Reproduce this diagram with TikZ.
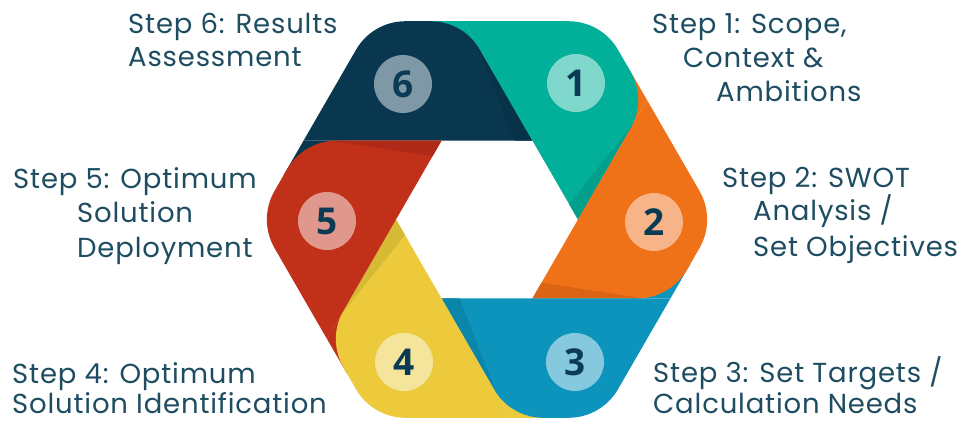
\documentclass[tikz,border=0pt]{standalone}
\usepackage{fontspec}
\setmainfont[LetterSpace=3]{Poppins}
\newfontfamily\numfont{Open Sans}
\definecolor{c6}{HTML}{08374F}
\definecolor{c1}{HTML}{02B09A}
\definecolor{c2}{HTML}{F07218}
\definecolor{c3}{HTML}{0D94BD}
\definecolor{c4}{HTML}{ECCA3B}
\definecolor{c5}{HTML}{C1311A}
\definecolor{c6d}{HTML}{073349}
\definecolor{c1d}{HTML}{01A08C}
\definecolor{c2d}{HTML}{DA6414}
\definecolor{c3d}{HTML}{0B85AA}
\definecolor{c4d}{HTML}{D6B935}
\definecolor{c5d}{HTML}{AE2A16}
\definecolor{t6}{HTML}{7F98A5}
\definecolor{t1}{HTML}{7FD8CB}
\definecolor{t2}{HTML}{F7B488}
\definecolor{t3}{HTML}{86C9DE}
\definecolor{t4}{HTML}{F5E49C}
\definecolor{t5}{HTML}{E0978C}
\definecolor{numc}{HTML}{0B3A54}
\definecolor{txt}{HTML}{1E4D62}
\begin{document}
\begin{tikzpicture}[x=1pt,y=-1pt,
  numcircle/.style={circle,minimum size=58pt,inner sep=0pt,fill=#1,text=numc,
    font=\numfont\bfseries\fontsize{37}{37}\selectfont},
  lbl/.style={anchor=base west,inner sep=0pt,text=txt,font=\fontsize{27.5}{30}\selectfont}]
\useasboundingbox (0,0) rectangle (960,421);
% patches of the next segment behind each rounded leading corner
\foreach \rot/\nxt in {0/c1,-60/c2,-120/c3,180/c4,120/c5,60/c6}{
  \begin{scope}[shift={(487,219.5)},rotate=\rot]
    \fill[\nxt] (-23.5,-198.3) -- (-63.5,-198.3) -- (-3.5,-163.7) -- cycle;
  \end{scope}
}
% segments
\foreach \rot/\col/\shd in {0/c6/c6d,-60/c1/c1d,-120/c2/c2d,180/c3/c3d,120/c4/c4d,60/c5/c5d}{
  \begin{scope}[shift={(487,219.5)},rotate=\rot]
    \fill[\col] (-183.5,-78.8) -- (-131,-169.7)
      .. controls (-120.8,-187.4) and (-101.9,-198.3) .. (-81.5,-198.3)
      -- (-56.5,-198.3)
      .. controls (-36.1,-198.3) and (-17.2,-187.4) .. (-7,-169.7) -- (45.5,-78.8) -- cycle;
    \fill[\shd] (45.5,-78.8) -- (27.5,-78.8) -- (-9.7,-174.4) -- cycle;
  \end{scope}
}
% number circles
\node[numcircle=t6] (n6) at (403,84) {6};
\node[numcircle=t1] (n1) at (576,83) {1};
\node[numcircle=t2] (n2) at (654,222) {2};
\node[numcircle=t3] (n3) at (575,362) {3};
\node[numcircle=t4] (n4) at (404,362) {4};
\node[numcircle=t5] (n5) at (327,221) {5};
% labels
\node[lbl] (l6a) at (128,33) {Step 6: Results};
\node[lbl] (l6b) at (128,66) {Assessment};
\node[lbl] (l1a) at (652,33) {Step 1: Scope,};
\node[lbl] (l1b) at (683,67) {Context \&};
\node[lbl] (l1c) at (716,101) {Ambitions};
\node[lbl] (l2a) at (722,187) {Step 2: SWOT};
\node[lbl] (l2b) at (753,220) {Analysis /};
\node[lbl] (l2c) at (753,256) {Set Objectives};
\node[lbl] (l5a) at (13,188) {Step 5: Optimum};
\node[lbl] (l5b) at (77,222) {Solution};
\node[lbl] (l5c) at (77,257) {Deployment};
\node[lbl] (l4a) at (12,383) {Step 4: Optimum};
\node[lbl] (l4b) at (12,413) {Solution Identification};
\node[lbl] (l3a) at (653,382) {Step 3: Set Targets /};
\node[lbl] (l3b) at (653,413) {Calculation Needs};
\end{tikzpicture}
\end{document}
